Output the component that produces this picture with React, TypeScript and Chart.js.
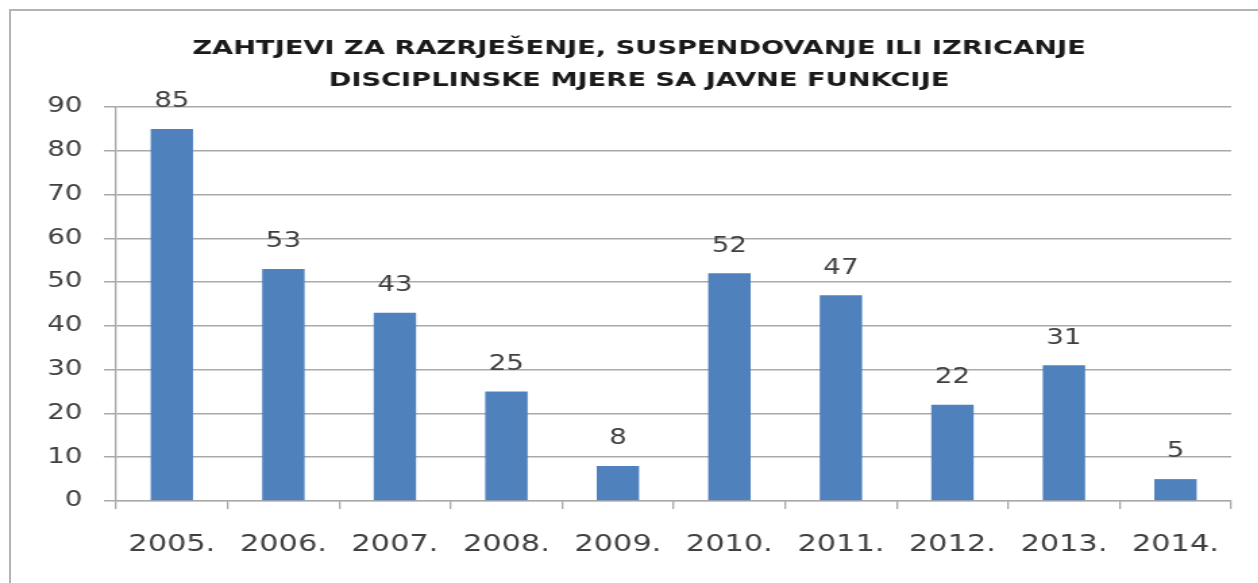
import React, { useEffect, useRef } from "react";
import { Chart, registerables } from "chart.js";

Chart.register(...registerables);

const titleLines = [
  "ZAHTJEVI ZA RAZRJEŠENJE, SUSPENDOVANJE ILI IZRICANJE",
  "DISCIPLINSKE MJERE SA JAVNE FUNKCIJE",
];
const years = ["2005.", "2006.", "2007.", "2008.", "2009.", "2010.", "2011.", "2012.", "2013.", "2014."];
const requests = [85, 53, 43, 25, 8, 52, 47, 22, 31, 5];
const yMin = 0;
const yMax = 90;
const yStep = 10;

// the reference is horizontally stretched; the canvas is drawn narrower and widened by CSS
const STRETCH = 1.35;
const PAGE_W = 1258;
const PAGE_H = 583;
const CANVAS_W = Math.round(PAGE_W / STRETCH);

const FONT = "'DejaVu Sans', Verdana, sans-serif";
const TEXT = "#404040";
const GRID = "#a9a9a9";
const BAR = "#4F81BD";

const titlePlugin = {
  id: "customTitle",
  afterDraw(chart: any) {
    const ctx = chart.ctx;
    ctx.save();
    ctx.font = `bold 20.2px ${FONT}`;
    ctx.fillStyle = "#1a1a1a";
    ctx.textAlign = "center";
    ctx.textBaseline = "middle";
    const cx = 639 / STRETCH;
    titleLines.forEach((line, i) => {
      ctx.fillText(line, cx, 49 + i * 32);
    });
    ctx.restore();
  },
};

const valueLabelPlugin = {
  id: "valueLabels",
  afterDatasetsDraw(chart: any) {
    const ctx = chart.ctx;
    const meta = chart.getDatasetMeta(0);
    const data = chart.data.datasets[0].data as number[];
    ctx.save();
    ctx.font = `20.5px ${FONT}`;
    ctx.fillStyle = TEXT;
    ctx.textAlign = "center";
    ctx.textBaseline = "middle";
    meta.data.forEach((bar: any, i: number) => {
      ctx.fillText(String(data[i]), bar.x, bar.y - 27);
    });
    ctx.restore();
  },
};

export default function App() {
  const canvasRef = useRef<HTMLCanvasElement | null>(null);

  useEffect(() => {
    if (!canvasRef.current) return;
    const chart = new Chart(canvasRef.current, {
      type: "bar",
      data: {
        labels: years,
        datasets: [
          {
            data: requests,
            backgroundColor: BAR,
            borderWidth: 0,
            barPercentage: 0.38,
            categoryPercentage: 1,
          },
        ],
      },
      options: {
        responsive: false,
        animation: false,
        devicePixelRatio: 1,
        layout: { padding: { top: 107, right: 20, left: 0, bottom: 0 } },
        plugins: {
          legend: { display: false },
          title: { display: false },
          tooltip: { enabled: false },
        },
        scales: {
          x: {
            afterFit: (s: any) => {
              s.height = 82;
            },
            grid: {
              drawOnChartArea: false,
              offset: true,
              tickLength: 8,
              color: GRID,
              lineWidth: 1.3,
            },
            border: { color: GRID, width: 1.3 },
            ticks: {
              color: TEXT,
              font: { family: FONT, size: 22.5 },
              padding: 23,
              maxRotation: 0,
              autoSkip: false,
            },
          },
          y: {
            min: yMin,
            max: yMax,
            afterFit: (s: any) => {
              s.width = 86;
            },
            grid: {
              color: GRID,
              lineWidth: 1.5,
              tickLength: 9,
            },
            border: { color: GRID, width: 1.3 },
            ticks: {
              stepSize: yStep,
              color: TEXT,
              font: { family: FONT, size: 20.5 },
              padding: 16,
            },
          },
        },
      },
      plugins: [valueLabelPlugin, titlePlugin],
    });
    return () => chart.destroy();
  }, []);

  return (
    <div
      style={{
        position: "fixed",
        left: 0,
        top: 0,
        width: PAGE_W,
        height: PAGE_H,
        overflow: "hidden",
        background: "#fff",
      }}
    >
      <div
        style={{
          position: "absolute",
          left: 9,
          top: 9,
          width: 1400,
          height: 800,
          borderLeft: "2px solid #b4b4b4",
          borderTop: "2px solid #b4b4b4",
        }}
      />
      <canvas
        ref={canvasRef}
        width={CANVAS_W}
        height={PAGE_H}
        style={{
          position: "absolute",
          left: 0,
          top: 0,
          width: CANVAS_W,
          height: PAGE_H,
          transform: `scaleX(${STRETCH})`,
          transformOrigin: "0 0",
        }}
      />
    </div>
  );
}
